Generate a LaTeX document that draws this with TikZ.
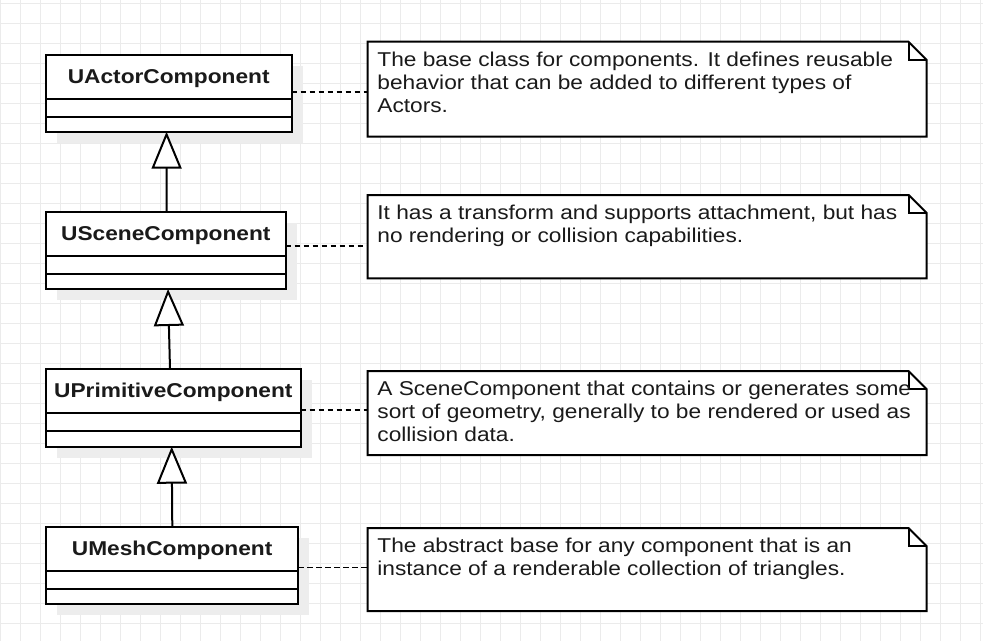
\documentclass[tikz,border=0pt]{standalone}
\usepackage{fontspec}
\setmainfont[FakeStretch=1.135]{Liberation Sans}
\usetikzlibrary{arrows.meta,calc}
\definecolor{gridc}{HTML}{EBEBEB}
\definecolor{shadowc}{HTML}{EDEDED}
\definecolor{textc}{HTML}{1A1A1A}
\tikzset{
  gridline/.style={draw=gridc,line width=1pt},
  classbox/.style={draw=black,fill=white,line width=2pt,inner sep=0pt,outer sep=0pt},
  sepline/.style={draw=black,line width=2pt},
  classname/.style={font=\fontsize{20}{23}\selectfont\bfseries,text=textc,inner sep=0pt},
  noteshape/.style={draw=black,fill=white,line width=2pt,line join=miter},
  notebounds/.style={inner sep=0pt,outer sep=0pt},
  notetext/.style={font=\fontsize{20}{23}\selectfont,text=textc,inner sep=0pt},
  inherit/.style={draw=black,line width=2pt,-{Triangle[length=37pt,width=30pt,fill=white]}},
  dashlink/.style={draw=black,line width=1.6pt,dash pattern=on 5.5pt off 3.5pt}
}
\newcommand\umlcls[6]{%
  \fill[shadowc] (#2+11,#3+11) rectangle (#4+11,#5+11);
  \node[classbox,anchor=north west,minimum width={#4-#2},minimum height={#5-#3}] (#1) at (#2,#3) {};
  \draw[sepline] ($(#1.north west)+(0,44)$) -- ($(#1.north east)+(0,44)$);
  \draw[sepline] ($(#1.north west)+(0,61.5)$) -- ($(#1.north east)+(0,61.5)$);
  \node[classname,anchor=base] (#1t) at ($(#1.north)+(0,28.3)$) {#6};
}
\newcommand\umlnote[6]{%
  \node[notebounds,anchor=north west,minimum width={#4-#2},minimum height={#5-#3}] (#1) at (#2,#3) {};
  \draw[noteshape] (#1.north west) -- ($(#1.north east)+(-18,0)$) -- ($(#1.north east)+(0,18)$) -- (#1.south east) -- (#1.south west) -- cycle;
  \draw[noteshape,fill=none] ($(#1.north east)+(-18,0)$) -- ($(#1.north east)+(-18,18)$) -- ($(#1.north east)+(0,18)$);
  \node[notetext,anchor=base west] (#1t) at ($(#1.north west)+(9.5,24.7)$) {\begin{tabular}[t]{@{}l@{}}#6\end{tabular}};
}
\begin{document}
\begin{tikzpicture}[x=1pt,y=-1pt]
\useasboundingbox (0,0) rectangle (983,641);
\fill[white] (0,0) rectangle (983,641);
\foreach \gx in {0.7,20.7,...,982} \draw[gridline] (\gx,0) -- (\gx,641);
\foreach \gy in {3.3,23.3,...,640} \draw[gridline] (0,\gy) -- (983,\gy);

\umlcls{cactor}{45.7}{55}{291.7}{131.7}{UActorComponent}
\umlcls{cscene}{46}{212}{285.7}{289}{USceneComponent}
\umlcls{cprim}{46}{369.3}{300.7}{446.7}{UPrimitiveComponent}
\umlcls{cmesh}{46}{527.3}{298.3}{604.3}{UMeshComponent}

\umlnote{nactor}{367.7}{41.7}{926.5}{136.7}{The base class for components. It defines reusable\\behavior that can be added to different types of\\Actors.}
\umlnote{nscene}{367.7}{195}{926.7}{278.3}{It has a transform and supports attachment, but has\\no rendering or collision capabilities.}
\umlnote{nprim}{367.7}{371}{926.5}{455}{A SceneComponent that contains or generates some\\sort of geometry, generally to be rendered or used as\\collision data.}
\umlnote{nmesh}{367.7}{528}{926.5}{611}{The abstract base for any component that is an\\instance of a renderable collection of triangles.}

\draw[inherit] ($(cscene.north)+(0.85,0)$) -- ($(cactor.south)+(-2.15,0)$);
\draw[inherit] ($(cprim.north)+(-3.35,0)$) -- ($(cscene.south)+(2.15,0)$);
\draw[inherit] ($(cmesh.north)+(0.15,0)$) -- ($(cprim.south)+(-1.65,0)$);

\coordinate (d1) at ($(cactor.east)+(0,-1.65)$);
\coordinate (d2) at ($(cscene.east)+(0,-4.5)$);
\coordinate (d3) at ($(cprim.east)+(0,2)$);
\coordinate (d4) at ($(cmesh.east)+(0,1.5)$);
\draw[dashlink] (d1) -- (d1 -| nactor.west);
\draw[dashlink] (d2) -- (d2 -| nscene.west);
\draw[dashlink] (d3) -- (d3 -| nprim.west);
\draw[dashlink] (d4) -- (d4 -| nmesh.west);
\end{tikzpicture}
\end{document}
